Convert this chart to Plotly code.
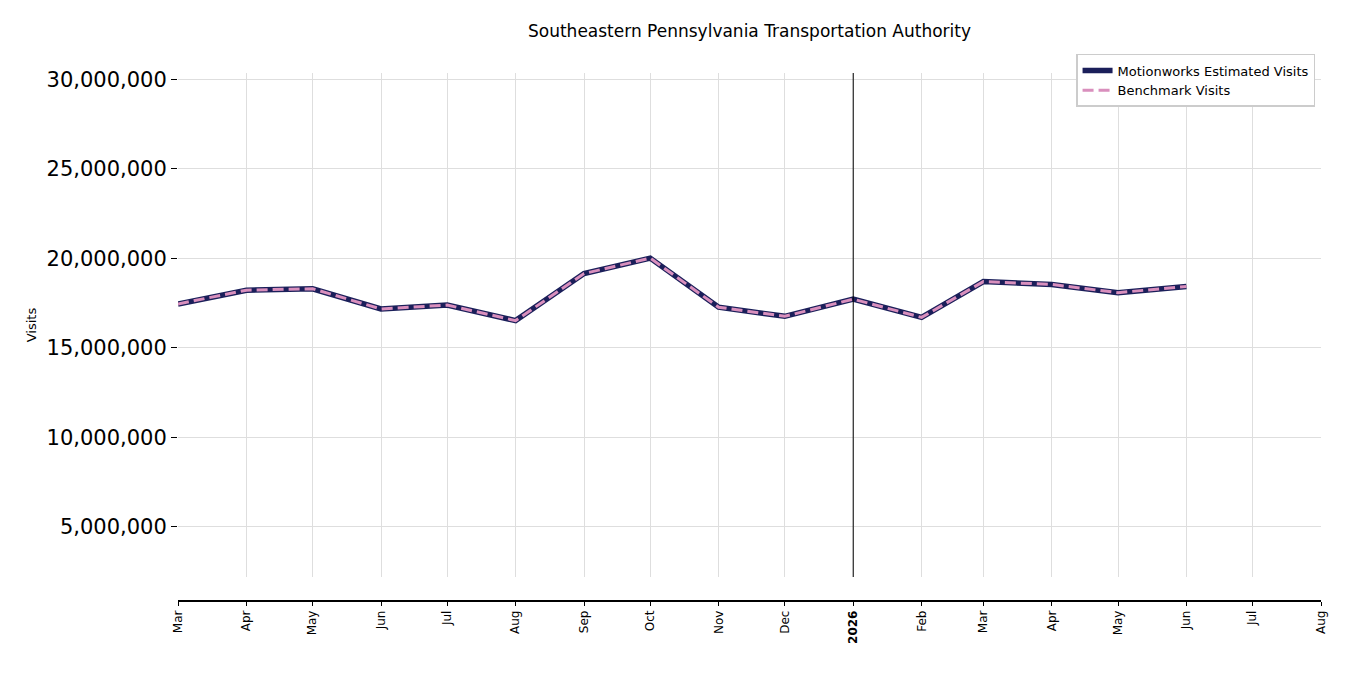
import plotly.graph_objects as go

months = ["2025-03-01", "2025-04-01", "2025-05-01", "2025-06-01", "2025-07-01",
          "2025-08-01", "2025-09-01", "2025-10-01", "2025-11-01", "2025-12-01",
          "2026-01-01", "2026-02-01", "2026-03-01", "2026-04-01", "2026-05-01",
          "2026-06-01"]
estimated = [17450000, 18220000, 18300000, 17170000, 17390000, 16520000,
             19150000, 20010000, 17270000, 16760000, 17720000, 16700000,
             18700000, 18540000, 18080000, 18430000]
benchmark = [17450000, 18220000, 18300000, 17170000, 17390000, 16520000,
             19150000, 20010000, 17270000, 16760000, 17720000, 16700000,
             18700000, 18540000, 18080000, 18430000]

tick_dates = ["2025-03-01", "2025-04-01", "2025-05-01", "2025-06-01", "2025-07-01",
              "2025-08-01", "2025-09-01", "2025-10-01", "2025-11-01", "2025-12-01",
              "2026-01-01", "2026-02-01", "2026-03-01", "2026-04-01", "2026-05-01",
              "2026-06-01", "2026-07-01", "2026-08-01"]
tick_text = ["Mar", "Apr", "May", "Jun", "Jul", "Aug", "Sep", "Oct", "Nov", "Dec",
             "<b>2026</b>", "Feb", "Mar", "Apr", "May", "Jun", "Jul", "Aug"]
y_ticks = [5000000, 10000000, 15000000, 20000000, 25000000, 30000000]

font = "DejaVu Sans"
x_range = ["2025-03-01", "2026-08-01"]

fig = go.Figure()
fig.add_trace(go.Scatter(x=months, y=estimated, mode="lines",
                         name="Motionworks Estimated Visits",
                         line=dict(color="#1b1f5a", width=5.5)))
fig.add_trace(go.Scatter(x=months, y=benchmark, mode="lines",
                         name="Benchmark Visits",
                         line=dict(color="#d98fbd", width=3, dash="11px,5px")))
# dummy trace so the lower (offset) date axis gets drawn
fig.add_trace(go.Scatter(x=x_range, y=[None, None], xaxis="x2", yaxis="y",
                         showlegend=False, hoverinfo="skip"))

fig.add_shape(type="line", x0="2026-01-01", x1="2026-01-01", y0=0, y1=1,
              xref="x", yref="y domain", line=dict(color="black", width=1))

fig.update_layout(
    width=1350, height=675,
    paper_bgcolor="white", plot_bgcolor="white",
    margin=dict(l=170, r=37, t=65, b=82),
    font=dict(family=font, color="black"),
    title=dict(text="Southeastern Pennsylvania Transportation Authority",
               x=(170 + 1313) / 2 / 1350, xanchor="center", y=1 - 23 / 675, yanchor="middle",
               font=dict(size=17, family=font)),
    xaxis=dict(type="date", range=x_range, tickvals=tick_dates, showticklabels=False,
               showgrid=True, gridcolor="#dedede", gridwidth=1, zeroline=False,
               showline=False, ticks=""),
    xaxis2=dict(type="date", range=x_range, overlaying="x", anchor="free", position=0,
                tickvals=tick_dates, ticktext=tick_text, tickangle=-90,
                tickfont=dict(size=12, family=font), showgrid=False,
                showline=True, linecolor="black", linewidth=1.5,
                ticks="outside", ticklen=4, tickcolor="black"),
    yaxis=dict(range=[2200000, 30350000], domain=[24 / 528, 1],
               tickvals=y_ticks, tickformat=",d", ticks="outside", ticklen=6,
               tickcolor="black", tickfont=dict(size=21, family=font),
               showgrid=True, gridcolor="#dedede", zeroline=False, showline=False,
               title=dict(text="Visits", font=dict(size=13, family=font), standoff=6)),
    legend=dict(x=0.9948, xanchor="right", y=1.036, yanchor="top",
                bgcolor="white", bordercolor="#cccccc", borderwidth=1.5,
                font=dict(size=13, family=font), tracegroupgap=0),
)

fig.write_html("out.html")
